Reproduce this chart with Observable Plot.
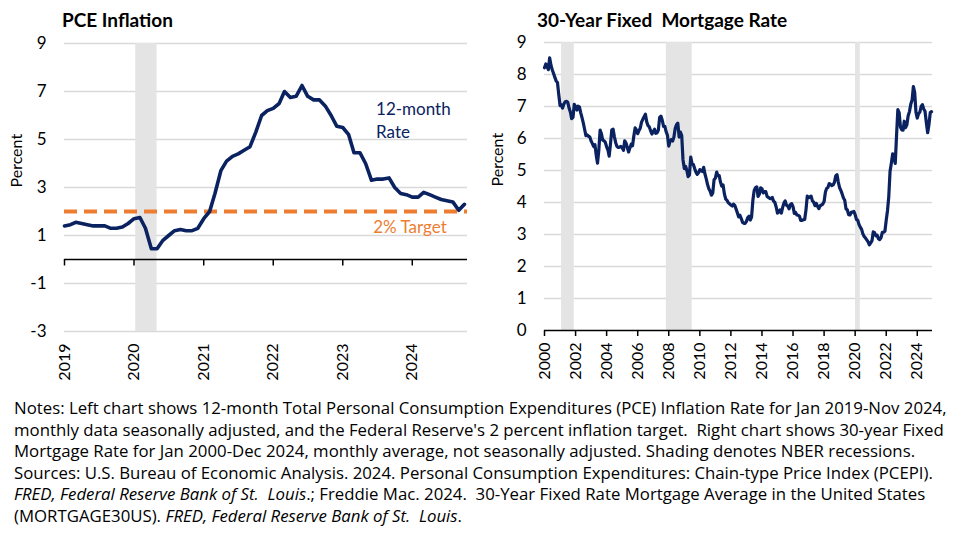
<!DOCTYPE html>
<html>
<head>
<meta charset="utf-8">
<script src="https://cdn.jsdelivr.net/npm/d3@7"></script>
<script src="https://cdn.jsdelivr.net/npm/@observablehq/plot@0.6"></script>
<style>
  body { margin: 0; background: #fff; }
  #wrap { position: relative; width: 975px; height: 543px; background: #fff; overflow: hidden; font-family: Lato, "Open Sans", sans-serif; }
  .title { position: absolute; font-weight: bold; font-size: 19px; line-height: 20px; color: #000; white-space: nowrap; }
  #notes { position: absolute; left: 14px; top: 397px; font-family: "Open Sans", Lato, sans-serif; font-size: 16.8px; line-height: 21.6px; color: #000; white-space: nowrap; }
  #left, #right { position: absolute; top: 0; }
</style>
</head>
<body>
<div id="wrap">
  <div id="left" style="left:0px"></div>
  <div id="right" style="left:480px"></div>
  <div class="title" style="left:62px;top:10px">PCE Inflation</div>
  <div class="title" style="left:537px;top:10px">30-Year Fixed&nbsp; Mortgage Rate</div>
  <div id="notes">
    Notes: Left chart shows 12-month Total Personal Consumption Expenditures (PCE) Inflation Rate for Jan 2019-Nov 2024,<br>
    monthly data seasonally adjusted, and the Federal Reserve's 2 percent inflation target.&nbsp; Right chart shows 30-year Fixed<br>
    Mortgage Rate for Jan 2000-Dec 2024, monthly average, not seasonally adjusted. Shading denotes NBER recessions.<br>
    Sources: U.S. Bureau of Economic Analysis. 2024. Personal Consumption Expenditures: Chain-type Price Index (PCEPI).<br>
    <i>FRED, Federal Reserve Bank of St.&nbsp; Louis</i>.; Freddie Mac. 2024.&nbsp; 30-Year Fixed Rate Mortgage Average in the United States<br>
    (MORTGAGE30US). <i>FRED, Federal Reserve Bank of St.&nbsp; Louis</i>.
  </div>
</div>
<script>
// ---------- Data ----------
// PCE 12-month inflation rate, monthly from Jan 2019
const pceStartYear = 2019;
const pceValues = [
  1.4, 1.45, 1.55, 1.5, 1.45, 1.4, 1.4, 1.4, 1.3, 1.3, 1.35, 1.5,   // 2019
  1.7, 1.75, 1.3, 0.45, 0.45, 0.8, 1.0, 1.2, 1.25, 1.2, 1.2, 1.3,   // 2020
  1.7, 2.0, 2.75, 3.7, 4.1, 4.3, 4.4, 4.55, 4.7, 5.3, 6.0, 6.2,     // 2021
  6.3, 6.5, 7.0, 6.75, 6.8, 7.25, 6.8, 6.65, 6.65, 6.4, 6.0, 5.55,  // 2022
  5.5, 5.2, 4.45, 4.45, 4.0, 3.3, 3.35, 3.35, 3.4, 3.0, 2.75, 2.7,  // 2023
  2.6, 2.6, 2.8, 2.7, 2.6, 2.5, 2.45, 2.4, 2.05, 2.3                // 2024 (Jan-Oct)
];
const pceYearTicks = [2019, 2020, 2021, 2022, 2023, 2024];
const pceYTicks = [9, 7, 5, 3, 1, -1, -3];
const inflationTarget = 2;

// 30-year fixed mortgage rate, monthly average from Jan 2000
const mortStartYear = 2000;
const mortValues = [
  8.21, 8.33, 8.24, 8.15, 8.52, 8.29, 8.15, 8.03, 7.91, 7.80, 7.75, 7.38, // 2000
  7.03, 7.05, 6.95, 7.08, 7.15, 7.16, 7.13, 6.95, 6.82, 6.62, 6.66, 7.07, // 2001
  7.00, 6.89, 7.01, 6.99, 6.81, 6.65, 6.49, 6.29, 6.09, 6.11, 6.07, 6.05, // 2002
  5.92, 5.84, 5.75, 5.81, 5.48, 5.23, 5.63, 6.26, 6.15, 5.95, 5.93, 5.88, // 2003
  5.74, 5.64, 5.45, 5.83, 6.27, 6.29, 6.06, 5.87, 5.75, 5.72, 5.73, 5.75, // 2004
  5.71, 5.63, 5.93, 5.86, 5.72, 5.58, 5.70, 5.82, 5.77, 6.07, 6.33, 6.27, // 2005
  6.15, 6.25, 6.32, 6.51, 6.60, 6.68, 6.76, 6.52, 6.40, 6.36, 6.24, 6.14, // 2006
  6.22, 6.29, 6.16, 6.18, 6.26, 6.66, 6.70, 6.57, 6.38, 6.38, 6.21, 6.10, // 2007
  5.76, 5.92, 5.97, 5.92, 6.04, 6.32, 6.43, 6.48, 6.04, 6.20, 6.09, 5.33, // 2008
  5.06, 5.13, 5.00, 4.81, 4.86, 5.42, 5.22, 5.19, 5.06, 4.95, 4.88, 4.93, // 2009
  5.03, 4.99, 4.97, 5.10, 4.89, 4.74, 4.56, 4.43, 4.35, 4.23, 4.30, 4.71, // 2010
  4.76, 4.95, 4.84, 4.84, 4.64, 4.51, 4.55, 4.27, 4.11, 4.07, 3.99, 3.96, // 2011
  3.92, 3.89, 3.95, 3.91, 3.80, 3.68, 3.55, 3.60, 3.50, 3.38, 3.35, 3.35, // 2012
  3.41, 3.53, 3.57, 3.45, 3.54, 4.07, 4.37, 4.46, 4.49, 4.19, 4.26, 4.46, // 2013
  4.43, 4.30, 4.34, 4.34, 4.19, 4.16, 4.13, 4.12, 4.16, 4.04, 4.00, 3.86, // 2014
  3.67, 3.71, 3.77, 3.67, 3.84, 3.98, 4.05, 3.91, 3.89, 3.80, 3.94, 3.96, // 2015
  3.87, 3.66, 3.69, 3.61, 3.60, 3.57, 3.44, 3.44, 3.46, 3.47, 3.77, 4.20, // 2016
  4.15, 4.17, 4.20, 4.05, 4.01, 3.90, 3.97, 3.88, 3.81, 3.90, 3.92, 3.95, // 2017
  4.03, 4.33, 4.44, 4.47, 4.59, 4.57, 4.53, 4.55, 4.63, 4.83, 4.87, 4.64, // 2018
  4.46, 4.37, 4.27, 4.14, 4.07, 3.80, 3.77, 3.62, 3.61, 3.69, 3.70, 3.72, // 2019
  3.62, 3.47, 3.45, 3.31, 3.23, 3.16, 3.02, 2.94, 2.89, 2.83, 2.77, 2.68, // 2020
  2.74, 2.81, 3.08, 3.06, 2.96, 2.98, 2.87, 2.84, 2.90, 3.07, 3.07, 3.10, // 2021
  3.45, 3.76, 4.17, 4.98, 5.23, 5.52, 5.41, 5.22, 6.11, 6.90, 6.81, 6.36, // 2022
  6.27, 6.26, 6.54, 6.34, 6.43, 6.71, 6.84, 7.07, 7.20, 7.62, 7.44, 6.82, // 2023
  6.64, 6.78, 6.82, 7.00, 7.06, 6.92, 6.85, 6.50, 6.18, 6.43, 6.81, 6.84  // 2024
];
const mortYearTicks = [2000, 2002, 2004, 2006, 2008, 2010, 2012, 2014, 2016, 2018, 2020, 2022, 2024];
const mortYTicks = [0, 1, 2, 3, 4, 5, 6, 7, 8, 9];

// NBER recessions (shading)
const recessionStarts = ["2001-02-05", "2007-11-05", "2020-01-10"];
const recessionEnds   = ["2001-12-01", "2009-07-05", "2020-05-01"];

// ---------- Build tables ----------
const monthDate = (startYear, i) => new Date(Date.UTC(startYear, i, 1));
const yearDate = y => new Date(Date.UTC(y, 0, 1));
const pce = pceValues.map((v, i) => ({date: monthDate(pceStartYear, i), value: v}));
const mort = mortValues.map((v, i) => ({date: monthDate(mortStartYear, i), value: v}));
const recessions = recessionStarts.map((s, i) => ({start: new Date(s), end: new Date(recessionEnds[i])}));

const NAVY = "#0a2260";
const ORANGE = "#ED7D31";
const GRID = "#d9d9d9";
const SHADE = "#e4e4e4";
const FONT = "Lato, 'Open Sans', sans-serif";
const hyphenFormat = d => String(d);

// ---------- Left chart ----------
const leftChart = Plot.plot({
  width: 480, height: 395,
  marginTop: 43, marginBottom: 64, marginLeft: 64, marginRight: 13,
  style: {fontFamily: FONT, fontSize: "17px", color: "#000", background: "transparent", overflow: "visible"},
  x: {type: "utc", domain: [yearDate(2019), new Date(Date.UTC(2024, 9, 17))]},
  y: {domain: [-3, 9]},
  marks: [
    Plot.ruleY(pceYTicks, {y: d => d, stroke: GRID, strokeWidth: 1.6}),
    Plot.rect(recessions.filter(d => d.start.getUTCFullYear() >= 2019), {x1: "start", x2: "end", y1: -3, y2: 9, fill: SHADE}),
    Plot.ruleY([inflationTarget], {y: d => d, stroke: ORANGE, strokeWidth: 4, strokeDasharray: "13,7"}),
    Plot.ruleY([0], {y: d => d, stroke: "#000", strokeWidth: 1.5}),
    Plot.ruleX(pceYearTicks.map(yearDate), {x: d => d, y1: 0, y2: -0.27, stroke: "#000", strokeWidth: 1.5}),
    Plot.lineY(pce, {x: "date", y: "value", stroke: NAVY, strokeWidth: 3.6, strokeLinejoin: "round", curve: "linear"}),
    Plot.axisY(pceYTicks, {tickSize: 0, tickPadding: 18, label: null, fontSize: 17, tickFormat: hyphenFormat}),
    Plot.axisX(pceYearTicks.map(yearDate), {tickSize: 0, tickPadding: 12, tickRotate: -90, tickFormat: d3.utcFormat("%Y"), label: null, fontSize: 16}),
    Plot.text(["Percent"], {text: d => d, frameAnchor: "left", dx: -48, rotate: -90, fontSize: 16}),
    Plot.text(["12-month\nRate"], {text: d => d, x: new Date(Date.UTC(2023, 5, 25)), y: 5.85, textAnchor: "start", lineAnchor: "middle", lineHeight: 1.35, fill: NAVY, fontSize: 17}),
    Plot.text(["2% Target"], {text: d => d, x: new Date(Date.UTC(2023, 11, 20)), y: 1.33, textAnchor: "middle", fill: ORANGE, fontSize: 17})
  ]
});
document.getElementById("left").appendChild(leftChart);

// ---------- Right chart ----------
const rightChart = Plot.plot({
  width: 495, height: 395,
  marginTop: 42, marginBottom: 65, marginLeft: 64, marginRight: 43,
  style: {fontFamily: FONT, fontSize: "17px", color: "#000", background: "transparent", overflow: "visible"},
  x: {type: "utc", domain: [yearDate(2000), new Date(Date.UTC(2024, 11, 24))]},
  y: {domain: [0, 9]},
  marks: [
    Plot.ruleY(mortYTicks.filter(d => d !== 0), {y: d => d, stroke: GRID, strokeWidth: 1.6}),
    Plot.rect(recessions, {x1: "start", x2: "end", y1: 0, y2: 9, fill: SHADE}),
    Plot.ruleY([0], {y: d => d, stroke: "#000", strokeWidth: 1.5}),
    Plot.lineY(mort, {x: "date", y: "value", stroke: NAVY, strokeWidth: 3.2, strokeLinejoin: "round"}),
    Plot.axisY(mortYTicks, {tickSize: 0, tickPadding: 18, label: null, fontSize: 17, tickFormat: hyphenFormat}),
    Plot.axisX(mortYearTicks.map(yearDate), {tickSize: 6, tickPadding: 6, tickRotate: -90, tickFormat: d3.utcFormat("%Y"), label: null, fontSize: 16, strokeWidth: 1.5}),
    Plot.text(["Percent"], {text: d => d, frameAnchor: "left", dx: -47, rotate: -90, fontSize: 16})
  ]
});
document.getElementById("right").appendChild(rightChart);
</script>
</body>
</html>
